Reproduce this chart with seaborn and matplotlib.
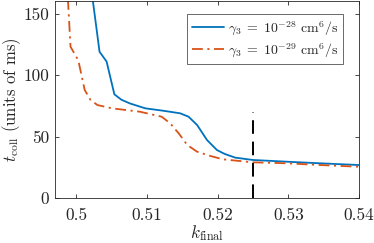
import pandas as pd
import matplotlib
matplotlib.use("Agg")
import matplotlib.pyplot as plt
import seaborn as sns

# Values
k_28 = [0.5020, 0.5033, 0.5043, 0.5054, 0.5064, 0.5076, 0.5098, 0.5124, 0.5147,
        0.5159, 0.5171, 0.5185, 0.5199, 0.5210, 0.5225, 0.5250, 0.5298, 0.5345, 0.5400]
t_28 = [176, 119, 111, 84.4, 80, 77, 73, 71, 69,
        66.2, 59.5, 47.3, 39.2, 36.0, 33.0, 31.1, 29.7, 28.4, 27.0]

k_29 = [0.4987, 0.4992, 0.5003, 0.5012, 0.5020, 0.5030, 0.5051, 0.5090, 0.5121,
        0.5133, 0.5145, 0.5157, 0.5171, 0.5190, 0.5208, 0.5250, 0.5298, 0.5345, 0.5400]
t_29 = [175, 123, 112, 88, 80, 75.7, 73, 70.3, 66.2,
        60.8, 52.7, 43.3, 37.8, 34.3, 31.6, 29.2, 28.4, 27.0, 25.6]

k_mark = 0.525
t_mark = [0, 70]

labels = [r"$\gamma_3\;=\;10^{-28}\ \mathrm{cm}^6/\mathrm{s}$",
          r"$\gamma_3\;=\;10^{-29}\ \mathrm{cm}^6/\mathrm{s}$"]

sns.set_style("ticks")
plt.rcParams["font.family"] = ["cmr10", "DejaVu Serif"]
plt.rcParams["mathtext.fontset"] = "cm"
plt.rcParams["axes.formatter.use_mathtext"] = True

fig = plt.figure(figsize=(3.74, 2.43), dpi=100)
ax = fig.add_axes([0.147, 0.184, 0.813, 0.811])

df28 = pd.DataFrame({"k": k_28, "t": t_28})
df29 = pd.DataFrame({"k": k_29, "t": t_29})

sns.lineplot(data=df28, x="k", y="t", ax=ax, color="#0072BD", lw=1.3,
             label=labels[0], sort=False)
sns.lineplot(data=df29, x="k", y="t", ax=ax, color="#D95319", lw=1.3,
             linestyle=(0, (6, 2.5, 1.2, 2.5)), label=labels[1], sort=False)
ax.plot([k_mark, k_mark], t_mark, color="black", lw=1.4, linestyle=(0, (7, 4)))

ax.set_xlim(0.497, 0.54)
ax.set_ylim(0, 160)
ax.set_xticks([0.50, 0.51, 0.52, 0.53, 0.54])
ax.set_xticklabels(["0.5", "0.51", "0.52", "0.53", "0.54"])
ax.set_yticks([0, 50, 100, 150])
ax.set_yticklabels(["0", "50", "100", "150"])

ax.set_xlabel(r"$k_{\rm final}$", fontsize=12.5, va="top")
ax.set_ylabel(r"$t_{\rm coll}$ (units of ms)", fontsize=12)
ax.xaxis.set_label_coords(0.5, -0.125)
ax.yaxis.set_label_coords(-0.105, 0.5)
ax.tick_params(direction="in", length=3, width=0.6, labelsize=12.5,
               top=True, right=True, colors="#262626")
ax.tick_params(axis="x", pad=7)
ax.tick_params(axis="y", pad=4)
for s in ax.spines.values():
    s.set_linewidth(0.6)
    s.set_color("#262626")
    s.set_visible(True)

leg = ax.legend(loc="upper right", bbox_to_anchor=(0.947, 0.935), borderaxespad=0,
                fontsize=10, frameon=True, fancybox=False, handlelength=2.3,
                handletextpad=0.3, borderpad=0.35, labelspacing=0.35)
leg.get_frame().set_edgecolor("#262626")
leg.get_frame().set_linewidth(0.6)

fig.savefig("out.png", dpi=100)
